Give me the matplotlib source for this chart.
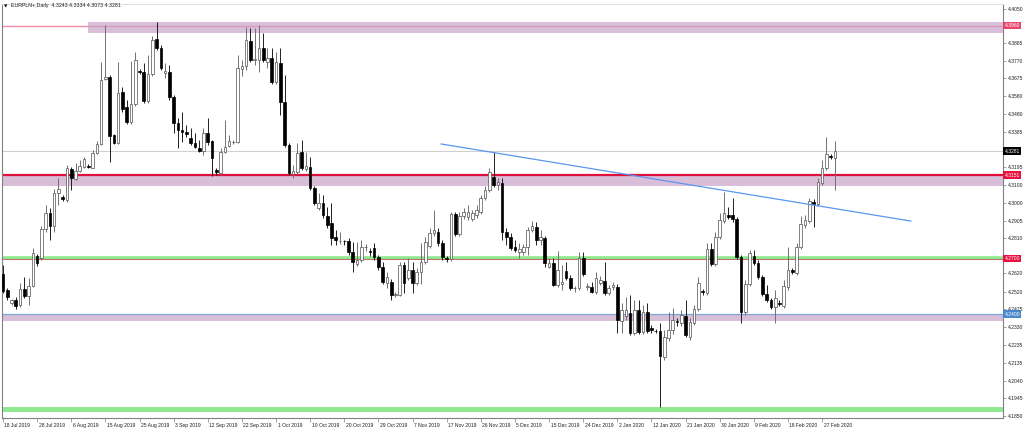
import numpy as np
import pandas as pd
import matplotlib
matplotlib.use('Agg')
import matplotlib.pyplot as plt
import matplotlib.transforms as mtransforms

plt.rcParams['font.family'] = ['Liberation Sans', 'DejaVu Sans']

# EURPLN+ daily bars, 18 Jul 2019 onwards (Sun-Fri sessions)
start_date = '2019-07-18'

opens = [4.2617, 4.2530, 4.2460, 4.2476, 4.2449, 4.2536, 4.2498, 4.2552, 4.2714, 4.2703,
         4.2860, 4.2947, 4.2876, 4.3055, 4.3033, 4.3017, 4.3185, 4.3131, 4.3174, 4.3196,
         4.3201, 4.3190, 4.3271, 4.3320, 4.3672, 4.3682, 4.3369, 4.3325, 4.3601, 4.3520,
         4.3439, 4.3536, 4.3715, 4.3709, 4.3553, 4.3699, 4.3888, 4.3839, 4.3704, 4.3709,
         4.3574, 4.3434, 4.3396, 4.3385, 4.3353, 4.3325, 4.3298, 4.3282, 4.3379, 4.3336,
         4.3179, 4.3163, 4.3277, 4.3309, 4.3331, 4.3331, 4.3726, 4.3742, 4.3877, 4.3774,
         4.3774, 4.3839, 4.3764, 4.3785, 4.3655, 4.3758, 4.3547, 4.3315, 4.3158, 4.3169,
         4.3277, 4.3185, 4.3196, 4.3082, 4.2974, 4.3001, 4.2930, 4.2893, 4.2817, 4.2795,
         4.2795, 4.2795, 4.2736, 4.2671, 4.2692, 4.2763, 4.2741, 4.2757, 4.2709, 4.2655,
         4.2568, 4.2574, 4.2503, 4.2503, 4.2665, 4.2595, 4.2638, 4.2568, 4.2628, 4.2682,
         4.2768, 4.2838, 4.2844, 4.2784, 4.2703, 4.2698, 4.2941, 4.2833, 4.2930, 4.2925,
         4.2914, 4.2936, 4.2952, 4.3028, 4.3071, 4.3141, 4.3098, 4.3109, 4.2844, 4.2817,
         4.2763, 4.2736, 4.2736, 4.2763, 4.2855, 4.2871, 4.2801, 4.2811, 4.2655, 4.2676,
         4.2557, 4.2563, 4.2633, 4.2595, 4.2541, 4.2541, 4.2703, 4.2546, 4.2546, 4.2519,
         4.2568, 4.2579, 4.2514, 4.2546, 4.2546, 4.2362, 4.2389, 4.2406, 4.2297, 4.2422,
         4.2303, 4.2411, 4.2325, 4.2308, 4.2308, 4.2168, 4.2270, 4.2314, 4.2362, 4.2352,
         4.2389, 4.2276, 4.2352, 4.2427, 4.2525, 4.2514, 4.2752, 4.2671, 4.2817, 4.2903,
         4.2936, 4.2936, 4.2914, 4.2709, 4.2411, 4.2563, 4.2714, 4.2676, 4.2600, 4.2509,
         4.2476, 4.2438, 4.2460, 4.2444, 4.2546, 4.2638, 4.2622, 4.2763, 4.2882, 4.2903,
         4.3006, 4.2995, 4.3109, 4.3190, 4.3255, 4.3243]

highs = [4.2665, 4.2541, 4.2482, 4.2492, 4.2568, 4.2600, 4.2595, 4.2757, 4.2725, 4.2876,
         4.2990, 4.2974, 4.3077, 4.3136, 4.3044, 4.3206, 4.3196, 4.3217, 4.3233, 4.3250,
         4.3212, 4.3288, 4.3336, 4.3764, 4.3964, 4.3693, 4.3374, 4.3764, 4.3628, 4.3558,
         4.3769, 4.3818, 4.3726, 4.3758, 4.3801, 4.3904, 4.3980, 4.3856, 4.3758, 4.3747,
         4.3585, 4.3461, 4.3493, 4.3423, 4.3407, 4.3379, 4.3342, 4.3407, 4.3461, 4.3342,
         4.3190, 4.3298, 4.3450, 4.3369, 4.3342, 4.3801, 4.3774, 4.3953, 4.3948, 4.3948,
         4.3964, 4.3920, 4.3839, 4.3839, 4.3818, 4.3839, 4.3693, 4.3325, 4.3206, 4.3325,
         4.3342, 4.3277, 4.3250, 4.3093, 4.3055, 4.3044, 4.2979, 4.3001, 4.2855, 4.2844,
         4.2801, 4.2811, 4.2790, 4.2790, 4.2801, 4.2779, 4.2757, 4.2784, 4.2720, 4.2682,
         4.2628, 4.2590, 4.2519, 4.2682, 4.2682, 4.2703, 4.2682, 4.2649, 4.2784, 4.2817,
         4.2866, 4.2963, 4.2866, 4.2801, 4.2714, 4.2952, 4.2952, 4.2952, 4.2974, 4.2990,
         4.2963, 4.2990, 4.3044, 4.3093, 4.3190, 4.3277, 4.3136, 4.3136, 4.2866, 4.2838,
         4.2801, 4.2784, 4.2779, 4.2871, 4.2903, 4.2898, 4.2855, 4.2822, 4.2703, 4.2703,
         4.2741, 4.2665, 4.2682, 4.2611, 4.2552, 4.2736, 4.2736, 4.2568, 4.2574, 4.2628,
         4.2606, 4.2682, 4.2557, 4.2574, 4.2563, 4.2460, 4.2492, 4.2503, 4.2476, 4.2476,
         4.2449, 4.2460, 4.2341, 4.2319, 4.2352, 4.2314, 4.2411, 4.2433, 4.2379, 4.2422,
         4.2476, 4.2379, 4.2449, 4.2600, 4.2536, 4.2784, 4.2784, 4.2844, 4.2947, 4.3060,
         4.2979, 4.3028, 4.2925, 4.2720, 4.2584, 4.2747, 4.2747, 4.2692, 4.2611, 4.2557,
         4.2487, 4.2530, 4.2476, 4.2584, 4.2763, 4.2649, 4.2784, 4.2930, 4.2936, 4.3028,
         4.3023, 4.3136, 4.3233, 4.3358, 4.3266, 4.3334]

lows = [4.2514, 4.2476, 4.2449, 4.2427, 4.2438, 4.2487, 4.2449, 4.2546, 4.2660, 4.2692,
        4.2844, 4.2801, 4.2844, 4.2990, 4.3012, 4.3006, 4.3071, 4.3125, 4.3169, 4.3190,
        4.3190, 4.3190, 4.3266, 4.3315, 4.3666, 4.3223, 4.3320, 4.3320, 4.3493, 4.3428,
        4.3428, 4.3526, 4.3699, 4.3542, 4.3542, 4.3688, 4.3829, 4.3720, 4.3677, 4.3558,
        4.3379, 4.3298, 4.3331, 4.3358, 4.3315, 4.3298, 4.3277, 4.3260, 4.3315, 4.3147,
        4.3152, 4.3152, 4.3271, 4.3304, 4.3320, 4.3325, 4.3688, 4.3720, 4.3764, 4.3747,
        4.3709, 4.3764, 4.3731, 4.3645, 4.3645, 4.3477, 4.3304, 4.3152, 4.3136, 4.3158,
        4.3179, 4.3174, 4.3071, 4.2990, 4.2963, 4.2920, 4.2866, 4.2774, 4.2774, 4.2779,
        4.2774, 4.2720, 4.2628, 4.2660, 4.2682, 4.2741, 4.2714, 4.2692, 4.2638, 4.2563,
        4.2541, 4.2476, 4.2492, 4.2498, 4.2514, 4.2584, 4.2514, 4.2557, 4.2563, 4.2671,
        4.2757, 4.2822, 4.2768, 4.2692, 4.2682, 4.2687, 4.2822, 4.2822, 4.2914, 4.2909,
        4.2903, 4.2920, 4.2941, 4.3017, 4.3060, 4.3087, 4.3071, 4.2801, 4.2774, 4.2747,
        4.2736, 4.2703, 4.2720, 4.2720, 4.2844, 4.2774, 4.2774, 4.2655, 4.2649, 4.2552,
        4.2546, 4.2530, 4.2584, 4.2530, 4.2519, 4.2530, 4.2606, 4.2530, 4.2514, 4.2509,
        4.2557, 4.2503, 4.2503, 4.2530, 4.2297, 4.2297, 4.2368, 4.2287, 4.2287, 4.2292,
        4.2292, 4.2297, 4.2297, 4.2297, 4.1897, 4.2151, 4.2254, 4.2292, 4.2335, 4.2335,
        4.2276, 4.2260, 4.2341, 4.2417, 4.2503, 4.2503, 4.2660, 4.2660, 4.2806, 4.2893,
        4.2914, 4.2898, 4.2698, 4.2352, 4.2395, 4.2552, 4.2665, 4.2590, 4.2498, 4.2465,
        4.2427, 4.2352, 4.2444, 4.2433, 4.2530, 4.2617, 4.2611, 4.2752, 4.2866, 4.2893,
        4.2871, 4.2985, 4.3098, 4.3179, 4.3239, 4.3073]

closes = [4.2525, 4.2492, 4.2476, 4.2444, 4.2536, 4.2498, 4.2552, 4.2730, 4.2676, 4.2860,
          4.2947, 4.2876, 4.3055, 4.3077, 4.3023, 4.3190, 4.3136, 4.3174, 4.3201, 4.3239,
          4.3196, 4.3271, 4.3320, 4.3666, 4.3682, 4.3363, 4.3325, 4.3596, 4.3509, 4.3439,
          4.3536, 4.3774, 4.3709, 4.3553, 4.3699, 4.3883, 4.3839, 4.3731, 4.3715, 4.3574,
          4.3434, 4.3396, 4.3385, 4.3374, 4.3325, 4.3304, 4.3282, 4.3379, 4.3331, 4.3244,
          4.3169, 4.3277, 4.3304, 4.3336, 4.3333, 4.3731, 4.3742, 4.3883, 4.3774, 4.3780,
          4.3839, 4.3774, 4.3785, 4.3655, 4.3764, 4.3547, 4.3315, 4.3163, 4.3174, 4.3271,
          4.3190, 4.3201, 4.3082, 4.3001, 4.3001, 4.2936, 4.2882, 4.2811, 4.2801, 4.2797,
          4.2793, 4.2736, 4.2682, 4.2692, 4.2763, 4.2765, 4.2736, 4.2709, 4.2655, 4.2574,
          4.2600, 4.2503, 4.2509, 4.2665, 4.2568, 4.2638, 4.2568, 4.2628, 4.2682, 4.2790,
          4.2838, 4.2855, 4.2784, 4.2709, 4.2698, 4.2941, 4.2833, 4.2930, 4.2952, 4.2952,
          4.2947, 4.2963, 4.3028, 4.3071, 4.3169, 4.3098, 4.3115, 4.2844, 4.2817, 4.2757,
          4.2747, 4.2752, 4.2763, 4.2855, 4.2876, 4.2801, 4.2817, 4.2676, 4.2676, 4.2557,
          4.2638, 4.2574, 4.2595, 4.2541, 4.2543, 4.2703, 4.2617, 4.2552, 4.2519, 4.2595,
          4.2584, 4.2514, 4.2541, 4.2557, 4.2368, 4.2422, 4.2422, 4.2297, 4.2422, 4.2303,
          4.2411, 4.2308, 4.2314, 4.2306, 4.2173, 4.2276, 4.2314, 4.2368, 4.2357, 4.2395,
          4.2287, 4.2357, 4.2427, 4.2568, 4.2519, 4.2752, 4.2671, 4.2817, 4.2909, 4.2947,
          4.2925, 4.2914, 4.2709, 4.2411, 4.2563, 4.2730, 4.2676, 4.2600, 4.2509, 4.2476,
          4.2438, 4.2487, 4.2455, 4.2552, 4.2638, 4.2628, 4.2763, 4.2887, 4.2909, 4.3012,
          4.2995, 4.3115, 4.3190, 4.3266, 4.3250, 4.3281]

# price scale ticks; the ones under a coloured tag are hidden there
ytick_values = ['4.4050', '4.3960', '4.3865', '4.3770', '4.3675', '4.3580', '4.3480', '4.3385',
                '4.3290', '4.3195', '4.3100', '4.3000', '4.2905', '4.2810', '4.2715', '4.2620',
                '4.2520', '4.2425', '4.2330', '4.2235', '4.2135', '4.2040', '4.1945', '4.1850']
hidden_ticks = ['4.3960', '4.3290', '4.2715']

# drawn objects: zones (low, high, start bar), levels, trendline
zones = [(4.3920, 4.3980, 20), (4.3093, 4.3152, -1), (4.2362, 4.2400, -1)]
level_top = 4.3960
level_red = 4.3151
level_green = 4.2704
level_red2 = 4.2700
level_blue = 4.2400
level_bottom = 4.1888
trend_bars = [102.7, 212.8]
trend_prices = [4.3320, 4.2903]

header = 'EURPLN+,Daily  4.3243 4.3334 4.3073 4.3281'

dates = pd.date_range(start_date, periods=len(opens),
                      freq=pd.offsets.CustomBusinessDay(weekmask='Sun Mon Tue Wed Thu Fri'))

o = np.array(opens)
h = np.array(highs)
l = np.array(lows)
c = np.array(closes)
idx = np.arange(len(o))
last = c[-1]

fig = plt.figure(figsize=(10.24, 4.30), dpi=100)
ax = fig.add_axes([2 / 1024, 12 / 430, 1001 / 1024, 414 / 430])

ax.set_xlim(-0.23, 234.4)
ax.set_ylim(4.1838, 4.4077)

# zones and levels
for lo, hi, x0 in zones:
    ax.axhspan(lo, hi, xmin=(x0 + 0.23) / 234.63 if x0 > 0 else 0, color='#c9a3c9', alpha=0.7, lw=0, zorder=1)
ax.axhline(level_top, color='#f08ca4', lw=1.0, zorder=0.5)
ax.axhline(last, color='#d0d0d0', lw=0.8, zorder=0.5)
ax.axhline(level_red, color='#e0103c', lw=1.6, zorder=2)
ax.axhline(level_green, color='#8ee88e', lw=2.6, zorder=2)
ax.axhline(level_red2, color='#d05060', lw=0.6, zorder=2)
ax.axhline(level_blue, color='#7aa8d8', lw=0.9, zorder=2)
ax.axhline(level_bottom, color='#8ee88e', lw=3.5, zorder=2)
ax.plot(trend_bars, trend_prices, color='#5a96f0', lw=0.9, zorder=4)

# candles
up = c >= o
ax.vlines(idx[up], l[up], h[up], color='#707070', lw=0.7, zorder=3)
ax.vlines(idx[~up], l[~up], h[~up], color='#202020', lw=0.7, zorder=3)
body_lo = np.minimum(o, c)
body_h = np.maximum(np.abs(c - o), 0.00008)
ax.bar(idx[up], body_h[up], bottom=body_lo[up], width=0.62, facecolor='white',
       edgecolor='#505050', lw=0.5, zorder=3.5)
ax.bar(idx[~up], body_h[~up], bottom=body_lo[~up], width=0.62, facecolor='black',
       edgecolor='black', lw=0.5, zorder=3.5)

# axes styling
for s in ax.spines.values():
    s.set_color('#808080')
    s.set_linewidth(0.8)
ax.spines['top'].set_color('#e0e0e0')

ax.yaxis.tick_right()
ax.set_yticks([float(t) for t in ytick_values])
ax.set_yticklabels(['' if t in hidden_ticks else t for t in ytick_values])
ax.tick_params(axis='y', length=2, width=0.5, color='#808080', labelsize=3.6, pad=1.5, labelcolor='#202020')

xt = idx[::8]
ax.set_xticks(xt)
ax.set_xticklabels([f'{d.day} {d:%b %Y}' for d in dates[::8]], ha='left')
ax.tick_params(axis='x', length=3, width=0.5, color='#808080', labelsize=3.6, pad=0.5, labelcolor='#202020')
offset = mtransforms.ScaledTranslation(1.5 / 100, 0, fig.dpi_scale_trans)
for lab in ax.get_xticklabels():
    lab.set_transform(lab.get_transform() + offset)

# highlighted price labels on the scale
yblend = mtransforms.blended_transform_factory(ax.transAxes, ax.transData)
tags = [(level_top, '4.3960', '#e8456a'), (last, '4.3281', '#000000'),
        (level_red, '4.3151', '#e8103c'), (level_red2, '4.2700', '#e8103c'),
        (level_blue, '4.2400', '#4a88cc')]
for val, txt, col in tags:
    ax.text(1.0015, val, txt, transform=yblend, ha='left', va='center', fontsize=3.6,
            color='white', clip_on=False, zorder=10,
            bbox=dict(boxstyle='square,pad=0.25', fc=col, ec='none'))

fig.text(4 / 1024, 1 - 6 / 430, '\u25bc', fontsize=3.2, va='center', ha='left', family='DejaVu Sans')
fig.text(11 / 1024, 1 - 6 / 430, header, fontsize=3.8, va='center', ha='left', color='#202020')

fig.savefig('out.png', dpi=100, facecolor='white')
